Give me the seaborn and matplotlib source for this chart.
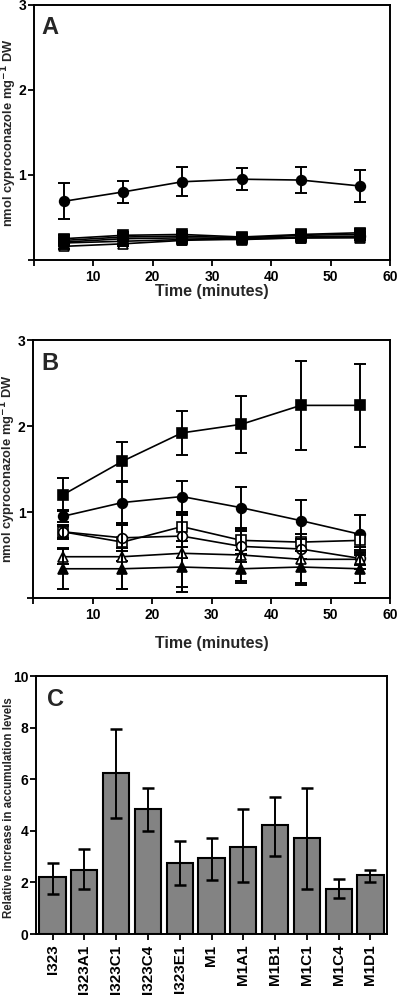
import numpy as np
import pandas as pd
import matplotlib
matplotlib.use('Agg')
import matplotlib.pyplot as plt
import seaborn as sns

sns.set_style('ticks')
plt.rcParams['font.family'] = ['Liberation Sans', 'DejaVu Sans']
plt.rcParams['font.weight'] = 'bold'
plt.rcParams['axes.labelweight'] = 'bold'
plt.rcParams['mathtext.default'] = 'bf'

# time points (minutes)
time = [5, 15, 25, 35, 45, 55]

# Panel A series (value, error)
a_fsq = [0.25, 0.29, 0.30, 0.27, 0.30, 0.32]
a_fsq_err = [0.04, 0.04, 0.04, 0.04, 0.04, 0.04]
a_fci = [0.69, 0.80, 0.92, 0.95, 0.94, 0.87]
a_fci_err = [0.21, 0.13, 0.17, 0.13, 0.15, 0.19]
a_osq = [0.23, 0.27, 0.28, 0.26, 0.29, 0.30]
a_osq_err = [0.03, 0.03, 0.03, 0.03, 0.03, 0.03]
a_oci = [0.21, 0.25, 0.26, 0.25, 0.27, 0.28]
a_oci_err = [0.03, 0.03, 0.03, 0.03, 0.03, 0.03]
a_otr = [0.16, 0.19, 0.23, 0.25, 0.26, 0.26]
a_otr_err = [0.03, 0.03, 0.03, 0.03, 0.04, 0.03]
a_ftr = [0.20, 0.22, 0.24, 0.24, 0.26, 0.27]
a_ftr_err = [0.03, 0.03, 0.03, 0.03, 0.03, 0.03]

# Panel B series (value, error)
b_fsq = [1.20, 1.59, 1.92, 2.02, 2.24, 2.24]
b_fsq_err = [0.19, 0.23, 0.26, 0.33, 0.52, 0.48]
b_fci = [0.95, 1.11, 1.18, 1.05, 0.90, 0.74]
b_fci_err = [0.07, 0.24, 0.18, 0.24, 0.24, 0.22]
b_osq = [0.77, 0.65, 0.83, 0.67, 0.65, 0.67]
b_osq_err = [0.08, 0.22, 0.17, 0.11, 0.10, 0.08]
b_oci = [0.77, 0.70, 0.72, 0.60, 0.57, 0.46]
b_oci_err = [0.07, 0.15, 0.26, 0.18, 0.12, 0.08]
b_otr = [0.48, 0.48, 0.52, 0.50, 0.45, 0.45]
b_otr_err = [0.09, 0.37, 0.45, 0.30, 0.30, 0.11]
b_ftr = [0.34, 0.34, 0.36, 0.34, 0.36, 0.34]
b_ftr_err = [0.24, 0.24, 0.23, 0.17, 0.19, 0.16]

# Panel C bars
strains = ['I323', 'I323A1', 'I323C1', 'I323C4', 'I323E1', 'M1',
           'M1A1', 'M1B1', 'M1C1', 'M1C4', 'M1D1']
rel_inc = [2.22, 2.49, 6.26, 4.85, 2.75, 2.94, 3.39, 4.22, 3.74, 1.75, 2.30]
rel_low = [1.55, 1.75, 4.49, 4.01, 1.91, 2.10, 2.01, 3.01, 1.75, 1.39, 2.00]
rel_high = [2.75, 3.29, 7.94, 5.68, 3.59, 3.74, 4.85, 5.33, 5.68, 2.13, 2.49]

ylab = r'nmol cyproconazole mg$^{-1}$ DW'


def style_axes(ax):
    for s in ax.spines.values():
        s.set_visible(True)
        s.set_linewidth(1.4)
        s.set_color('black')
    ax.tick_params(direction='out', width=1.3, length=4, labelsize=10, colors='black')
    ax.tick_params(axis='y', pad=1.5)


def time_panel(ax, series, letter, xlab_y):
    for vals, errs, marker, filled in series:
        df = pd.DataFrame({'t': time, 'v': vals})
        sns.lineplot(data=df, x='t', y='v', ax=ax, color='black', linewidth=1.2,
                     marker=marker, markersize=7 if marker != 's' else 6.5,
                     markerfacecolor='black' if filled else 'white',
                     markeredgecolor='black', markeredgewidth=1.2)
        ax.errorbar(time, vals, yerr=errs, fmt='none', ecolor='black',
                    elinewidth=1.4, capsize=4.5, capthick=1.4)
    ax.set_xlim(0, 60)
    ax.set_ylim(0, 3)
    ax.set_xticks([0, 10, 20, 30, 40, 50, 60])
    ax.set_xticklabels(['', '10', '20', '30', '40', '50', '60'], fontweight='bold')
    ax.set_yticks([0, 1, 2, 3])
    ax.set_yticklabels(['', '1', '2', '3'], fontweight='bold')
    ax.set_xlabel('Time (minutes)', fontsize=11.5, fontweight='bold')
    ax.xaxis.set_label_coords(0.5, xlab_y)
    ax.set_ylabel(ylab, fontsize=9.3, fontweight='bold')
    ax.yaxis.set_label_coords(-0.042, 0.5)
    ax.text(0.022, 0.955, letter, transform=ax.transAxes, fontsize=17,
            fontweight='heavy', va='top', ha='left')
    style_axes(ax)


fig = plt.figure(figsize=(4, 9.96), dpi=100)
axA = fig.add_axes([0.085, 0.739, 0.89, 0.256])
axB = fig.add_axes([0.083, 0.3996, 0.892, 0.259])
axC = fig.add_axes([0.09, 0.0622, 0.8775, 0.259])

time_panel(axA, [
    (a_osq, a_osq_err, 's', False),
    (a_oci, a_oci_err, 'o', False),
    (a_otr, a_otr_err, '^', False),
    (a_ftr, a_ftr_err, '^', True),
    (a_fsq, a_fsq_err, 's', True),
    (a_fci, a_fci_err, 'o', True),
], 'A', -0.094)

time_panel(axB, [
    (b_fsq, b_fsq_err, 's', True),
    (b_fci, b_fci_err, 'o', True),
    (b_osq, b_osq_err, 's', False),
    (b_oci, b_oci_err, 'o', False),
    (b_otr, b_otr_err, '^', False),
    (b_ftr, b_ftr_err, '^', True),
], 'B', -0.147)

# Panel C
cdf = pd.DataFrame({'strain': strains, 'val': rel_inc})
sns.barplot(data=cdf, x='strain', y='val', color='#838383', edgecolor='black',
            linewidth=1.5, width=0.82, saturation=1, ax=axC)
low = np.array(rel_inc) - np.array(rel_low)
high = np.array(rel_high) - np.array(rel_inc)
axC.errorbar(range(len(strains)), rel_inc, yerr=[low, high], fmt='none',
             ecolor='black', elinewidth=1.4, capsize=4, capthick=1.8)
axC.set_xlim(-0.52, len(strains) - 0.48)
axC.set_ylim(0, 10)
axC.set_yticks([0, 2, 4, 6, 8, 10])
axC.set_yticklabels(['0', '2', '4', '6', '8', '10'], fontweight='bold')
axC.set_xticks(range(len(strains)))
axC.set_xticklabels(strains, rotation=90, fontweight='bold')
axC.set_xlabel('')
axC.set_ylabel('Relative increase in accumulation levels', fontsize=8.3,
               fontweight='bold')
axC.yaxis.set_label_coords(-0.06, 0.49)
axC.text(0.03, 0.955, 'C', transform=axC.transAxes, fontsize=17,
         fontweight='heavy', va='top', ha='left')
style_axes(axC)
axC.tick_params(axis='x', labelsize=11)

fig.savefig('out.png', dpi=100)
